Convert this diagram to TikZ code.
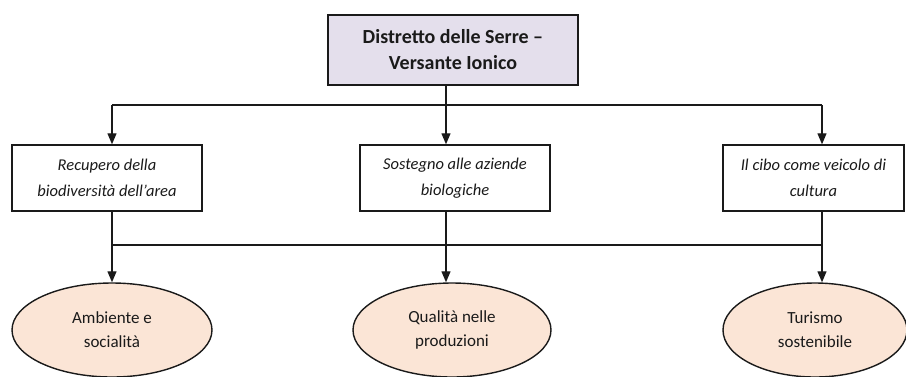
\documentclass[tikz,border=0pt]{standalone}
\usepackage{fontspec}
\setmainfont{Carlito}
\usetikzlibrary{arrows.meta,shapes.geometric}
\definecolor{topfill}{HTML}{E4DFEC}
\definecolor{ellfill}{HTML}{FBE5D6}
\definecolor{ink}{HTML}{1A1A1A}
\begin{document}
\begin{tikzpicture}[x=1pt,y=-1pt,
  conn/.style={line width=1.3pt,draw=ink},
  arr/.style={conn,-{Triangle[width=9pt,length=11pt]}},
  topbox/.style={draw=ink,line width=1.8pt,fill=topfill,minimum width=250pt,minimum height=70pt,align=center,inner sep=0pt,
    font=\fontsize{20}{26}\selectfont\bfseries,text=ink},
  midbox/.style={draw=ink,line width=1.4pt,fill=white,minimum height=66pt,align=center,inner sep=0pt,
    font=\fontsize{16.5}{26}\selectfont\itshape,text=ink},
  ellnode/.style={ellipse,draw=ink,line width=1.4pt,fill=ellfill,minimum height=94pt,align=center,inner sep=0pt,
    font=\fontsize{17}{24}\selectfont,text=ink}
  ]
\useasboundingbox (0,0) rectangle (906,376);
\node[topbox] (top) at (453,50) {Distretto delle Serre --\\Versante Ionico};
\node[midbox,minimum width=190pt] (lb) at (107,178) {Recupero della\\biodiversità dell’area};
\node[midbox,minimum width=190pt] (mb) at (455,178) {Sostegno alle aziende\\biologiche};
\node[midbox,minimum width=181pt] (rb) at (813.5,178) {Il cibo come veicolo di\\cultura};
\node[ellnode,minimum width=200pt] (e1) at (112,330) {Ambiente e\\socialità};
\node[ellnode,minimum width=198pt] (e2) at (452,330) {Qualità nelle\\produzioni};
\node[ellnode,minimum width=184pt] (e3) at (815,330) {Turismo\\sostenibile};
\coordinate (t1) at (112,105);
\coordinate (t2) at (446,105);
\coordinate (t3) at (822,105);
\coordinate (b1) at (112,245);
\coordinate (b2) at (446,245);
\coordinate (b3) at (822,245);
\draw[conn] (top.south -| t2) -- (t2);
\draw[conn] (t1) -- (t3);
\draw[arr] (t1) -- (t1 |- lb.north);
\draw[arr] (t2) -- (t2 |- mb.north);
\draw[arr] (t3) -- (t3 |- rb.north);
\draw[conn] (lb.south -| b1) -- (b1);
\draw[conn] (mb.south -| b2) -- (b2);
\draw[conn] (rb.south -| b3) -- (b3);
\draw[conn] (b1) -- (b3);
\draw[arr] (b1) -- (b1 |- e1.north);
\draw[arr] (b2) -- (b2 |- e2.north);
\draw[arr] (b3) -- (b3 |- e3.north);
\end{tikzpicture}
\end{document}
